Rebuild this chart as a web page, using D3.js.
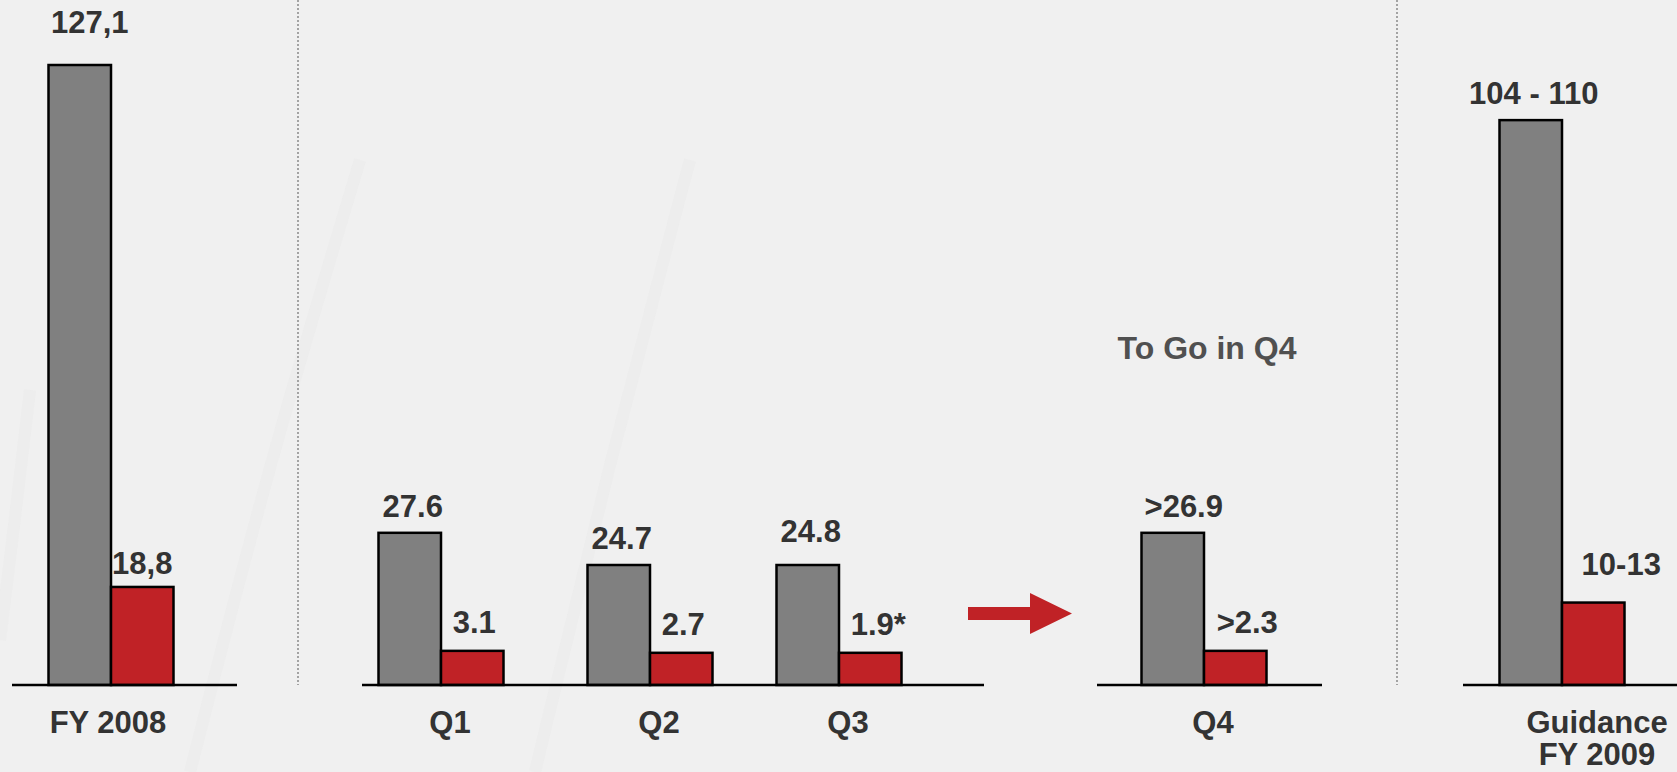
<!DOCTYPE html>
<html>
<head>
<meta charset="utf-8">
<script src="https://cdn.jsdelivr.net/npm/d3@7"></script>
<style>
  html, body { margin: 0; padding: 0; background: #f0f0f0; overflow: hidden; }
  text { font-family: "Liberation Sans", Arial, sans-serif; font-weight: bold; }
</style>
</head>
<body>
<div id="chart"></div>
<script>
// values
const categories = ['FY 2008', 'Q1', 'Q2', 'Q3', 'Q4', 'Guidance FY 2009'];
const categoryLines = [['FY 2008'], ['Q1'], ['Q2'], ['Q3'], ['Q4'], ['Guidance', 'FY 2009']];
// bar heights as drawn in the picture (same unit as the 127,1 bar)
const greyBarValues = [127.1, 31.2, 24.6, 24.6, 31.2, 115.8];
const redBarValues = [20.1, 7.0, 6.6, 6.6, 7.0, 16.9];
const greyLabels = ['127,1', '27.6', '24.7', '24.8', '>26.9', '104 - 110'];
const redLabels = ['18,8', '3.1', '2.7', '1.9*', '>2.3', '10-13'];
const annotation = 'To Go in Q4';

const width = 1677,
  height = 772,
  baseY = 685,
  barW = 62.5;

// layout
const groupCenters = [111, 441, 650, 839, 1204, 1562];
const panels = [[12, 237], [362, 984], [1097, 1322], [1463, 1677]];
const dividers = [298, 1397];
// small label nudges to sit where the slide had them
const greyNudge = [[7, -16], [0, 0], [0, 0], [0, -7], [8, 0], [0, 0]];
const redNudge = [[-2, 5], [0, 0], [0, 0], [6, 0], [10, 0], [26, -10]];
const catNudge = [-12, 0, 0, 0, 0, 26];

const svg = d3.select('#chart').append('svg')
  .attr('width', width)
  .attr('height', height);

svg.append('rect')
  .attr('width', width)
  .attr('height', height)
  .attr('fill', '#f0f0f0');

// faint background streaks
const streaks = [
  [[360, 160], [270, 460], [190, 772]],
  [[690, 160], [610, 460], [535, 772]],
  [[30, 390], [10, 560], [0, 640]]
];
const streakLine = d3.line().curve(d3.curveBasis);
svg.selectAll('.streak')
  .data(streaks)
  .enter().append('path')
  .attr('class', 'streak')
  .attr('d', streakLine)
  .attr('fill', 'none')
  .attr('stroke', '#e8e8e8')
  .attr('stroke-width', 12)
  .attr('opacity', 0.45);

const x = d3.scaleOrdinal().domain(categories).range(groupCenters);
const inner = d3.scaleBand().domain(['grey', 'red']).range([-barW, barW]);
const y = d3.scaleLinear().domain([0, 127.1]).range([baseY, 65]);

// dotted dividers
svg.selectAll('.divider')
  .data(dividers)
  .enter().append('line')
  .attr('class', 'divider')
  .attr('x1', d => d).attr('x2', d => d)
  .attr('y1', 0).attr('y2', baseY)
  .attr('stroke', '#a3a3a3')
  .attr('stroke-width', 2)
  .attr('stroke-dasharray', '2,2');

const rows = categories.map((c, i) => ({
  cat: c,
  i: i,
  grey: greyBarValues[i],
  red: redBarValues[i],
  greyLabel: greyLabels[i],
  redLabel: redLabels[i],
  lines: categoryLines[i]
}));

const group = svg.selectAll('.group')
  .data(rows)
  .enter().append('g')
  .attr('class', 'group')
  .attr('transform', d => `translate(${x(d.cat)},0)`);

group.append('rect')
  .attr('x', inner('grey'))
  .attr('y', d => y(d.grey))
  .attr('width', inner.bandwidth())
  .attr('height', d => baseY - y(d.grey))
  .attr('fill', '#808080')
  .attr('stroke', '#000')
  .attr('stroke-width', 2.5);

group.append('rect')
  .attr('x', inner('red'))
  .attr('y', d => y(d.red))
  .attr('width', inner.bandwidth())
  .attr('height', d => baseY - y(d.red))
  .attr('fill', '#c02226')
  .attr('stroke', '#000')
  .attr('stroke-width', 2.5);

group.append('text')
  .attr('x', d => inner('grey') + inner.bandwidth() / 2 + 3 + greyNudge[d.i][0])
  .attr('y', d => y(d.grey) - 16 + greyNudge[d.i][1])
  .attr('text-anchor', 'middle')
  .style('font-size', '31px')
  .attr('fill', '#333')
  .text(d => d.greyLabel);

group.append('text')
  .attr('x', d => inner('red') + inner.bandwidth() / 2 + 2 + redNudge[d.i][0])
  .attr('y', d => y(d.red) - 18 + redNudge[d.i][1])
  .attr('text-anchor', 'middle')
  .style('font-size', '31px')
  .attr('fill', '#333')
  .text(d => d.redLabel);

group.append('text')
  .attr('text-anchor', 'middle')
  .style('font-size', '31px')
  .attr('fill', '#333')
  .selectAll('tspan')
  .data(d => d.lines.map(l => ({ l: l, i: d.i })))
  .enter().append('tspan')
  .attr('x', d => 9 + catNudge[d.i])
  .attr('y', (d, k) => 733 + k * 32)
  .text(d => d.l);

// baselines
svg.selectAll('.axis')
  .data(panels)
  .enter().append('line')
  .attr('class', 'axis')
  .attr('x1', d => d[0]).attr('x2', d => d[1])
  .attr('y1', baseY).attr('y2', baseY)
  .attr('stroke', '#000')
  .attr('stroke-width', 2.5);

// arrow into Q4
svg.append('path')
  .attr('d', 'M968,607 L1030,607 L1030,593 L1072,613.5 L1030,634 L1030,620 L968,620 Z')
  .attr('fill', '#c02226');

svg.append('text')
  .attr('x', 1207)
  .attr('y', 359)
  .attr('text-anchor', 'middle')
  .style('font-size', '32px')
  .attr('fill', '#505050')
  .text(annotation);
</script>
</body>
</html>
